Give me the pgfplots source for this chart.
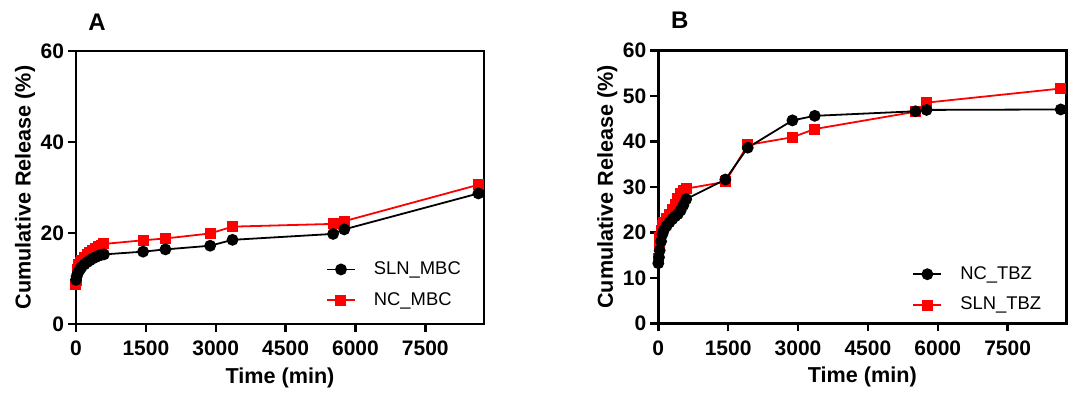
\documentclass[border=0pt]{standalone}
\usepackage{fontspec}
\setmainfont{Liberation Sans}
\usepackage{pgfplots}
\pgfplotsset{compat=1.18}

\pgfplotstableread{
t v
0 9.7
15 10.4
30 11.0
60 11.6
90 12.1
120 12.5
180 13.1
240 13.6
300 14.0
360 14.4
420 14.7
480 15.0
540 15.2
600 15.3
1440 15.9
1920 16.4
2880 17.2
3360 18.5
5520 19.8
5760 20.8
8640 28.7
}\slnmbc
\pgfplotstableread{
t v
0 8.6
15 9.6
30 12.0
60 13.0
90 13.6
120 14.0
180 14.6
240 15.2
300 15.7
360 16.2
420 16.6
480 17.0
540 17.3
600 17.6
1440 18.4
1920 18.8
2880 19.9
3360 21.4
5520 22.0
5760 22.6
8640 30.6
}\ncmbc
\pgfplotstableread{
t v
0 13.2
15 14.5
30 16.0
60 18.0
90 19.6
120 20.5
180 21.4
240 22.2
300 22.9
360 23.5
420 24.0
480 24.8
540 26.0
600 27.3
1440 31.6
1920 38.6
2880 44.6
3360 45.6
5520 46.6
5760 46.9
8640 47.0
}\nctbz
\pgfplotstableread{
t v
0 14.3
15 17.5
30 18.8
60 20.4
90 21.4
120 22.2
180 23.0
240 24.0
300 25.1
360 26.2
420 27.4
480 28.5
540 29.2
600 29.6
1440 31.1
1920 39.2
2880 40.9
3360 42.7
5520 46.5
5760 48.5
8640 51.6
}\slntbz

\definecolor{myred}{RGB}{255,0,0}

\pgfplotsset{
  panel/.style={
    scale only axis,
    width=204pt, height=136.5pt,
    xmin=0, xmax=8760, ymin=0, ymax=60,
    xtick={0,1500,3000,4500,6000,7500},
    axis line style={line width=1.2pt},
    major tick style={line width=1.2pt, black},
    tick align=outside,
    major tick length=4pt,
    tick pos=left,
    /pgf/number format/assume math mode=true,
    /pgf/number format/1000 sep={},
    ticklabel style={font=\bfseries\fontsize{10.5}{12}\selectfont},
    xticklabel style={yshift=-1pt},
    yticklabel style={xshift=1.5pt},
    label style={font=\bfseries\fontsize{10.8}{12}\selectfont},
    xlabel={Time (min)},
    ylabel={Cumulative Release (\%)},
    xlabel style={at={([yshift=-27pt]axis description cs:0.5,0)}, anchor=center},
    ylabel style={at={([xshift=-25.5pt]axis description cs:0,0.5)}, anchor=center},
    legend style={draw=none, fill=none, font=\fontsize{9.2}{10}\selectfont, row sep=3.5pt, inner sep=0pt, column sep=7pt},
    legend cell align=left,
    reverse legend,
    legend image code/.code={
      \draw[mark repeat=2,mark phase=2,#1] plot coordinates {(0pt,0pt)(7pt,0pt)(14pt,0pt)};
    },
    clip=false,
  },
  blk/.style={black, line width=0.9pt, mark=*, mark size=2.5pt, mark options={solid, fill=black}},
  rd/.style={myred, line width=0.9pt, mark=square*, mark size=2.3pt, mark options={solid, fill=myred}},
}

\begin{document}
\begin{tikzpicture}
\path (0,0) rectangle (536.5pt,-195.5pt);
% Panel A
\begin{axis}[panel, at={(38pt,-162pt)}, anchor=south west,
  ytick={0,20,40,60},
  legend style={at={(0.612,0.245)}, anchor=north west}]
\addplot[rd] table[x=t,y=v]{\ncmbc};
\addlegendentry{NC\_MBC}
\addplot[blk] table[x=t,y=v]{\slnmbc};
\addlegendentry{SLN\_MBC}
\node[font=\bfseries\fontsize{12}{13}\selectfont] at ([xshift=10.5pt,yshift=14.5pt]rel axis cs:0,1) {A};
\end{axis}
% Panel B
\begin{axis}[panel, at={(329.15pt,-161.65pt)}, anchor=south west,
  ytick={0,10,20,30,40,50,60},
  legend style={at={(0.622,0.225)}, anchor=north west}]
\addplot[rd] table[x=t,y=v]{\slntbz};
\addlegendentry{SLN\_TBZ}
\addplot[blk] table[x=t,y=v]{\nctbz};
\addlegendentry{NC\_TBZ}
\node[font=\bfseries\fontsize{12}{13}\selectfont] at ([xshift=10.8pt,yshift=14.8pt]rel axis cs:0,1) {B};
\end{axis}
\end{tikzpicture}
\end{document}
